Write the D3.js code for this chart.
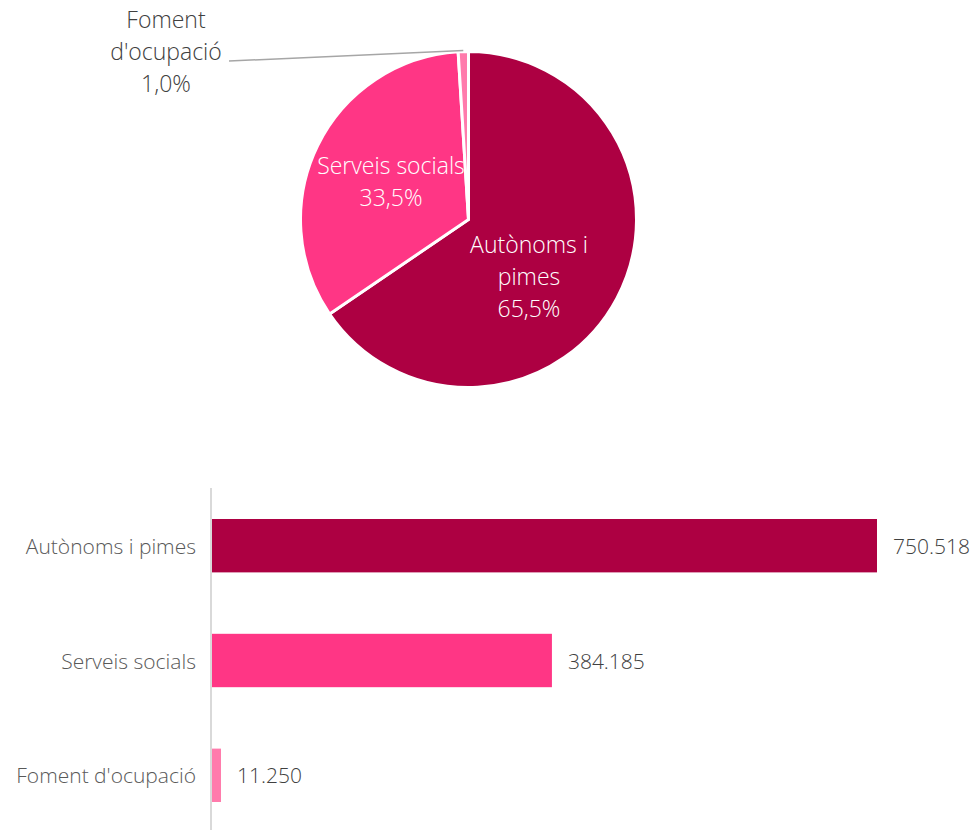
<!DOCTYPE html>
<html>
<head>
    <meta charset="utf-8">
    <style>
        body { margin: 0; background: #fff; }
        svg { font-family: 'Open Sans', Lato, sans-serif; font-weight: 300; }
        .pie-label { fill: #fff; font-size: 23px; text-anchor: middle; }
        .out-label { fill: #404040; font-size: 23px; text-anchor: middle; }
        .cat-label { fill: #595959; font-size: 21px; text-anchor: end; }
        .val-label { fill: #404040; font-size: 21px; }
    </style>
</head>
<body>
    <svg width="974" height="830"></svg>

<script src="https://d3js.org/d3.v7.min.js"></script>
<script>
    // data
    let categories = ["Autònoms i pimes", "Serveis socials", "Foment d'ocupació"];
    let values = [750518, 384185, 11250];
    let colors = ["#AD0042", "#FF3685", "#FF7BAC"];

    let svg = d3.select("svg");
    let total = d3.sum(values);
    let pctFmt = v => d3.format(".1f")(v * 100).replace(".", ",") + "%";
    let numFmt = v => d3.format(",")(v).replace(/,/g, ".");

    // ---- pie ----
    let cx = 468.5, cy = 219.5, radius = 168;
    let pie = d3.pie().sort(null).value(d => d)(values);
    let arc = d3.arc().innerRadius(0).outerRadius(radius);

    let pieG = svg.append("g").attr("transform", `translate(${cx},${cy})`);
    pieG.selectAll("path")
        .data(pie)
        .join("path")
        .attr("d", arc)
        .attr("fill", (d, i) => colors[i])
        .attr("stroke", "#fff")
        .attr("stroke-width", 3)
        .attr("stroke-linejoin", "miter");

    // in-slice labels, block centre offsets from pie centre (Excel placement)
    let inLabels = [
        { lines: ["Autònoms i", "pimes", pctFmt(values[0] / total)], pos: [60.5, 57.5] },
        { lines: ["Serveis socials", pctFmt(values[1] / total)], pos: [-77.5, -38] }
    ];
    let lh = 32;
    inLabels.forEach(lb => {
        let n = lb.lines.length;
        let t = pieG.append("text").attr("class", "pie-label");
        lb.lines.forEach((line, j) => {
            t.append("tspan")
                .attr("x", lb.pos[0])
                .attr("y", lb.pos[1] + (j - (n - 1) / 2) * lh + 8)
                .text(line);
        });
    });

    // outside label for the small slice with leader line
    let small = pie[2];
    let midA = (small.startAngle + small.endAngle) / 2;
    let edge = [Math.sin(midA) * (radius + 1), -Math.cos(midA) * (radius + 1)];
    svg.append("path")
        .attr("d", `M${cx + edge[0]},${cy + edge[1]} L229,61`)
        .attr("fill", "none")
        .attr("stroke", "#A6A6A6")
        .attr("stroke-width", 1.5);

    let outT = svg.append("text").attr("class", "out-label");
    ["Foment", "d'ocupació", pctFmt(values[2] / total)].forEach((line, j) => {
        outT.append("tspan").attr("x", 166).attr("y", 28 + j * 32).text(line);
    });

    // ---- bars ----
    let x = d3.scaleLinear().domain([0, values[0]]).range([211, 877]);
    let y = d3.scaleBand().domain(categories).range([488, 833]).paddingInner(0.535).paddingOuter(0.27);

    svg.append("line")
        .attr("x1", 211).attr("x2", 211)
        .attr("y1", 488).attr("y2", 830)
        .attr("stroke", "#D9D9D9")
        .attr("stroke-width", 2);

    svg.append("g")
        .selectAll("rect")
        .data(values)
        .join("rect")
        .attr("x", x(0) + 1)
        .attr("y", (d, i) => y(categories[i]))
        .attr("width", d => x(d) - x(0) - 1)
        .attr("height", y.bandwidth())
        .attr("fill", (d, i) => colors[i]);

    svg.append("g")
        .selectAll("text")
        .data(categories)
        .join("text")
        .attr("class", "cat-label")
        .attr("x", 196)
        .attr("y", d => y(d) + y.bandwidth() / 2 + 8)
        .text(d => d);

    svg.append("g")
        .selectAll("text")
        .data(values)
        .join("text")
        .attr("class", "val-label")
        .attr("x", d => x(d) + 16)
        .attr("y", (d, i) => y(categories[i]) + y.bandwidth() / 2 + 8)
        .text(d => numFmt(d));
</script>
</body>
</html>
